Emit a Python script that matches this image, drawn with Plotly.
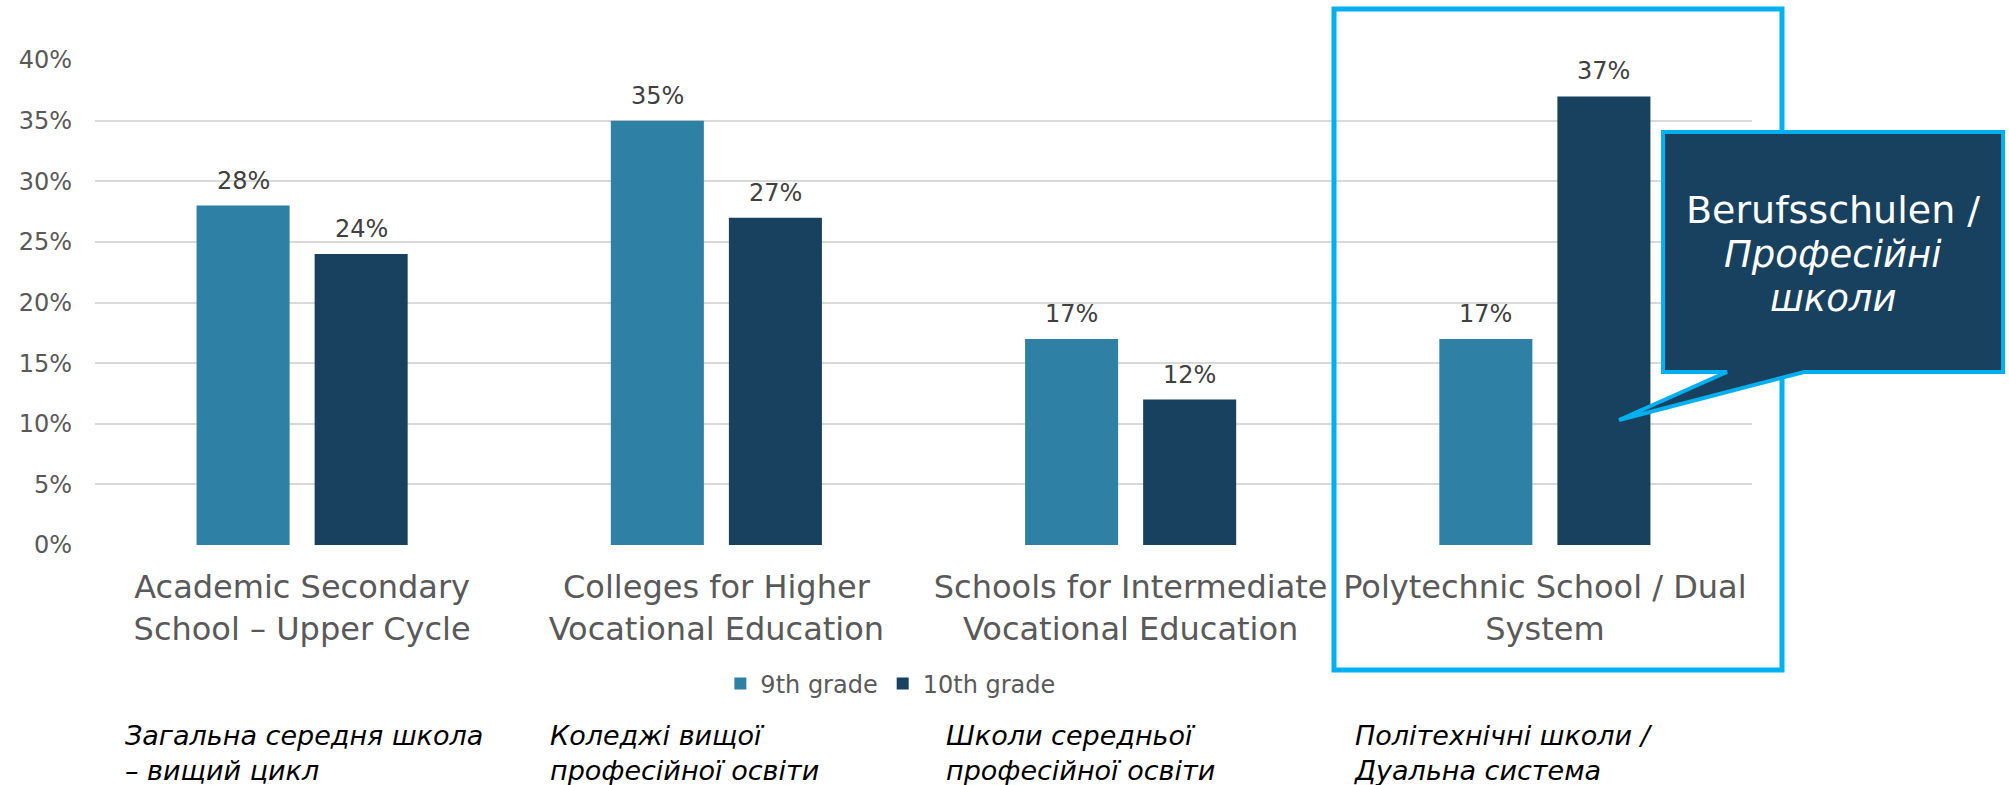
import plotly.graph_objects as go

# ---- data ----
categories = [
    "Academic Secondary<br>School – Upper Cycle",
    "Colleges for Higher<br>Vocational Education",
    "Schools for Intermediate<br>Vocational Education",
    "Polytechnic School / Dual<br>System",
]
grade9 = [0.28, 0.35, 0.17, 0.17]
grade10 = [0.24, 0.27, 0.12, 0.37]
series_names = ["9th grade", "10th grade"]
ukr_labels = [
    "Загальна середня школа<br>– вищий цикл",
    "Коледжі вищої<br>професійної освіти",
    "Школи середньої<br>професійної освіти",
    "Політехнічні школи /<br>Дуальна система",
]
callout_lines = ["Berufsschulen /", "<i>Професійні</i>", "<i>школи</i>"]
y_ticks = [0, 0.05, 0.10, 0.15, 0.20, 0.25, 0.30, 0.35, 0.40]

# ---- style ----
W, H = 2009, 785
ML, MR, MT, MB = 95, 257, 60, 240
PW, PH = W - ML - MR, H - MT - MB
C9, C10, CYAN = "#2E80A4", "#17415F", "#00B0F0"
FONT = "DejaVu Sans"


def px(x):
    return (x - ML) / PW


def py(y):
    return (H - MB - y) / PH


fig = go.Figure()
fig.add_bar(x=categories, y=grade9, name=series_names[0], marker_color=C9,
            marker_line_width=0)
fig.add_bar(x=categories, y=grade10, name=series_names[1], marker_color=C10,
            marker_line_width=0)

annotations = []
# value labels
for vals, shift in ((grade9, -59), (grade10, 59)):
    for c, v in zip(categories, vals):
        annotations.append(dict(
            x=c, y=v, xref="x", yref="y", text=f"{v:.0%}", showarrow=False,
            xshift=shift, yshift=9, yanchor="bottom",
            font=dict(family=FONT, size=24, color="#404040")))

# Ukrainian sublabels (left edges in pixels)
ukr_left = [123, 548, 944, 1352]
for t, xl in zip(ukr_labels, ukr_left):
    annotations.append(dict(
        x=px(xl), y=py(753), xref="paper", yref="paper", text=f"<i>{t}</i>",
        showarrow=False, xanchor="left", yanchor="middle", align="left",
        font=dict(family=FONT, size=27, color="#000000")))

# callout text
for t, yy, sz in zip(callout_lines, [210, 254, 298], [38, 37, 37]):
    annotations.append(dict(
        x=px(1833), y=py(yy), xref="paper", yref="paper", text=t,
        showarrow=False, xanchor="center", yanchor="middle",
        font=dict(family=FONT, size=sz, color="#FFFFFF")))

shapes = [
    # highlight box
    dict(type="rect", xref="paper", yref="paper",
         x0=px(1334), x1=px(1782), y0=py(670), y1=py(9),
         line=dict(color=CYAN, width=5), fillcolor="rgba(0,0,0,0)", layer="above"),
]
pts = [(1663, 132), (2003, 132), (2003, 372), (1804, 372), (1619, 420), (1727, 372), (1663, 372)]
path = "M " + " L ".join(f"{px(a):.5f},{py(b):.5f}" for a, b in pts) + " Z"
shapes.append(dict(type="path", xref="paper", yref="paper", path=path,
                   fillcolor=C10, line=dict(color=CYAN, width=4), layer="above"))

fig.update_layout(
    width=W, height=H,
    margin=dict(l=ML, r=MR, t=MT, b=MB, pad=0),
    paper_bgcolor="white", plot_bgcolor="white",
    barmode="group", bargap=0.43, bargroupgap=0.212,
    font=dict(family=FONT, color="#595959"),
    showlegend=True,
    legend=dict(orientation="h", x=0.48, xanchor="center", y=py(684), yanchor="middle",
                font=dict(family=FONT, size=24, color="#595959"),
                itemwidth=30, bgcolor="rgba(0,0,0,0)"),
    annotations=annotations,
    shapes=shapes,
    xaxis=dict(showgrid=False, showline=False, zeroline=False, ticks="",
               tickfont=dict(family=FONT, size=32, color="#595959"),
               ticklabelstandoff=20),
    yaxis=dict(range=[0, 0.4], tickvals=y_ticks, tickformat=".0%",
               showgrid=True, gridcolor="#D9D9D9", gridwidth=1.5,
               zeroline=False, showline=False, ticks="",
               tickfont=dict(family=FONT, size=24, color="#595959"),
               ticklabelstandoff=22),
)

fig.write_html("out.html")
